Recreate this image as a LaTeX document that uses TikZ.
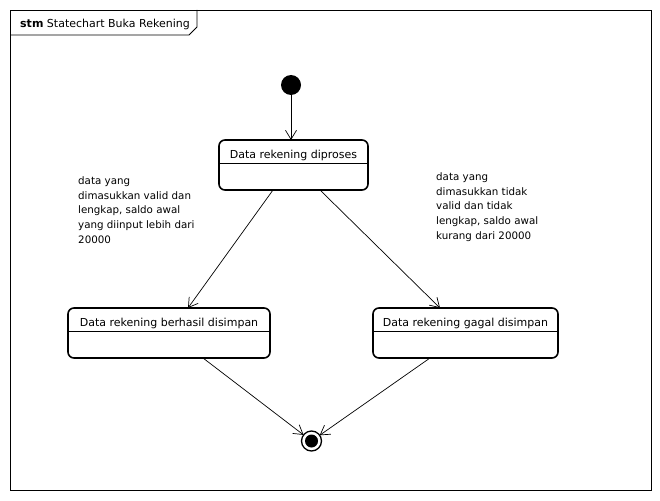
\documentclass[tikz,border=0pt]{standalone}
\usepackage{fontspec}
\setmainfont{DejaVu Sans}
\usetikzlibrary{arrows.meta}
\begin{document}
\begin{tikzpicture}[x=1pt,y=-1pt,
  every node/.style={font=\fontsize{11}{14.5}\selectfont},
  statebox/.style={draw, line width=1.6pt, rounded corners=6pt, minimum height=50pt, inner sep=0pt, outer sep=0pt},
  divider/.style={line width=0.8pt},
  frameline/.style={line width=0.8pt},
  trans/.style={line width=0.7pt, -{Straight Barb[length=9pt,width=11pt,line width=0.7pt]}},
  guard/.style={anchor=north west, align=left, inner sep=0pt, font=\fontsize{10.3}{14.7}\selectfont}]
\useasboundingbox (0,0) rectangle (660,500);
% frame
\draw[frameline] (10,10) rectangle (651,490);
\draw[frameline] (10,35) -- (189,35) -- (197,27) -- (197,10);
\node[anchor=base west, inner sep=0pt] (title) at (20,28) {\textbf{stm} Statechart Buka Rekening};
% initial
\node[circle, fill=black, minimum size=20pt, inner sep=0pt] (ini) at (291,85) {};
% states
\node[statebox, minimum width=149pt] (s1) at (293.5,165) {};
\node[anchor=base, inner sep=0pt] (s1t) at (293.5,158) {Data rekening diproses};
\draw[divider] ([yshift=-23pt]s1.north west) -- ([yshift=-23pt]s1.north east);

\node[statebox, minimum width=202pt] (s2) at (169,333) {};
\node[anchor=base, inner sep=0pt] (s2t) at (169,326) {Data rekening berhasil disimpan};
\draw[divider] ([yshift=-23pt]s2.north west) -- ([yshift=-23pt]s2.north east);

\node[statebox, minimum width=185pt] (s3) at (465.5,333) {};
\node[anchor=base, inner sep=0pt] (s3t) at (465.5,326) {Data rekening gagal disimpan};
\draw[divider] ([yshift=-23pt]s3.north west) -- ([yshift=-23pt]s3.north east);
% final
\node[circle, draw, line width=1.3pt, minimum size=20pt, inner sep=0pt, outer sep=0pt] (fin) at (311.5,441) {};
\fill[black] (fin.center) circle[radius=6.5pt];
% transitions
\draw[trans] (ini) -- (ini |- s1.north);
\draw[trans] ([xshift=-20.5pt]s1.south) -- ([xshift=19pt]s2.north);
\draw[trans] ([xshift=26.5pt]s1.south) -- ([xshift=-25.5pt]s3.north);
\draw[trans] ([xshift=34pt]s2.south) -- (fin);
\draw[trans] ([xshift=-35.5pt]s3.south) -- (fin);
% guards
\node[guard] (g1) at (78,176.5) {data yang\\dimasukkan valid dan\\lengkap, saldo awal\\yang diinput lebih dari\\20000};
\node[guard] (g2) at (436,172.5) {data yang\\dimasukkan tidak\\valid dan tidak\\lengkap, saldo awal\\kurang dari 20000};
\end{tikzpicture}
\end{document}
